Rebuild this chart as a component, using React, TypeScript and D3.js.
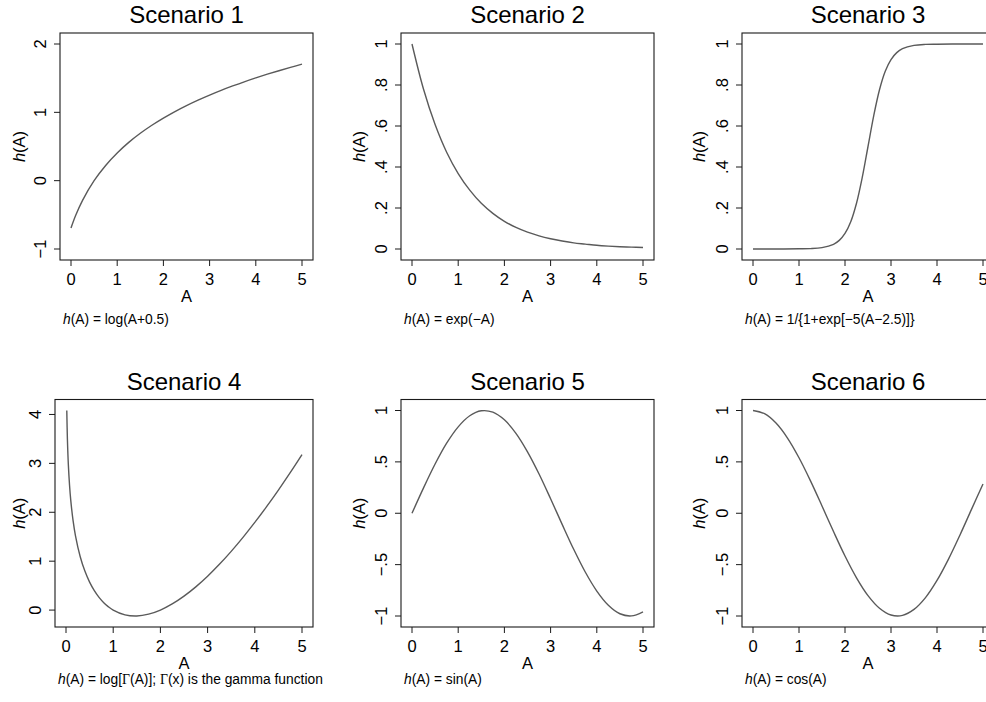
import React from 'react';
import * as d3 from 'd3';

// values, one array per scenario
const scenarioTitles = ['Scenario 1', 'Scenario 2', 'Scenario 3', 'Scenario 4', 'Scenario 5', 'Scenario 6'];

const gridA = [0, 0.25, 0.5, 0.75, 1, 1.25, 1.5, 1.75, 2, 2.25, 2.5, 2.75, 3, 3.25, 3.5, 3.75, 4, 4.25, 4.5, 4.75, 5];

const scenario1A = [0, 0.1, 0.25, 0.5, 0.75, 1, 1.25, 1.5, 1.75, 2, 2.25, 2.5, 2.75, 3, 3.25, 3.5, 3.75, 4, 4.25, 4.5, 4.75, 5];
const scenario1H = [-0.693, -0.511, -0.288, 0, 0.223, 0.405, 0.56, 0.693, 0.811, 0.916, 1.012, 1.099, 1.179, 1.253, 1.322, 1.386, 1.447, 1.504, 1.558, 1.609, 1.658, 1.705];

const scenario2H = [1, 0.779, 0.607, 0.472, 0.368, 0.287, 0.223, 0.174, 0.135, 0.105, 0.082, 0.064, 0.05, 0.039, 0.03, 0.024, 0.018, 0.014, 0.011, 0.009, 0.007];

const scenario3A = [0, 0.5, 1, 1.25, 1.5, 1.75, 1.875, 2, 2.125, 2.25, 2.375, 2.5, 2.625, 2.75, 2.875, 3, 3.125, 3.25, 3.5, 3.75, 4, 4.5, 5];
const scenario3H = [0, 0, 0.001, 0.002, 0.007, 0.023, 0.042, 0.076, 0.133, 0.223, 0.349, 0.5, 0.651, 0.777, 0.867, 0.924, 0.958, 0.977, 0.993, 0.998, 0.999, 1, 1];

const scenario4A = [0.0167, 0.03, 0.05, 0.075, 0.1, 0.15, 0.2, 0.3, 0.4, 0.5, 0.6, 0.7, 0.8, 0.9, 1, 1.25, 1.5, 1.75, 2, 2.25, 2.5, 2.75, 3, 3.25, 3.5, 3.75, 4, 4.25, 4.5, 4.75, 5];
const scenario4H = [4.081, 3.49, 2.969, 2.552, 2.253, 1.828, 1.524, 1.096, 0.797, 0.572, 0.398, 0.261, 0.152, 0.066, 0, -0.098, -0.121, -0.084, 0, 0.125, 0.285, 0.475, 0.693, 0.936, 1.201, 1.487, 1.792, 2.115, 2.454, 2.809, 3.178];

const scenario5H = [0, 0.247, 0.479, 0.682, 0.841, 0.949, 0.997, 0.984, 0.909, 0.778, 0.598, 0.382, 0.141, -0.108, -0.351, -0.572, -0.757, -0.895, -0.978, -0.999, -0.959];

const scenario6H = [1, 0.969, 0.878, 0.732, 0.54, 0.315, 0.071, -0.178, -0.416, -0.628, -0.801, -0.924, -0.99, -0.994, -0.936, -0.821, -0.654, -0.446, -0.211, 0.038, 0.284];

const xTicks = [0, 1, 2, 3, 4, 5];
const yTicks1 = [-1, 0, 1, 2];
const yTicks2 = [0, 0.2, 0.4, 0.6, 0.8, 1];
const yTicks4 = [0, 1, 2, 3, 4];
const yTicks5 = [-1, -0.5, 0, 0.5, 1];

const notes = [
  ' = log(A+0.5)',
  ' = exp(\u2212A)',
  ' = 1/{1+exp[\u22125(A\u22122.5)]}',
  'gamma',
  ' = sin(A)',
  ' = cos(A)',
];

const FONT = '"Liberation Sans", Arial, Helvetica, sans-serif';
const SERIF = '"Liberation Serif", "Times New Roman", serif';

// Stata-style tick labels: ".5", "−1"
const fmt = (v: number) => {
  let s = String(Math.abs(v));
  if (s.startsWith('0.')) s = s.slice(1);
  return (v < 0 ? '\u2212' : '') + s;
};

interface Panel {
  title: string;
  a: number[];
  h: number[];
  yTicks: number[];
  left: number;
  right: number;
  top: number;
  bottom: number;
  yTitleX: number;
  noteY: number;
  note: string;
}

const rowTop = { top: 33, bottom: 260, noteY: 324 };
const rowBot = { top: 399.5, bottom: 627, noteY: 684 };

const panels: Panel[] = [
  { title: scenarioTitles[0], a: scenario1A, h: scenario1H, yTicks: yTicks1, left: 60, right: 313, ...rowTop, yTitleX: 24.5, note: notes[0] },
  { title: scenarioTitles[1], a: gridA, h: scenario2H, yTicks: yTicks2, left: 401, right: 654, ...rowTop, yTitleX: 365, note: notes[1] },
  { title: scenarioTitles[2], a: scenario3A, h: scenario3H, yTicks: yTicks2, left: 742, right: 994, ...rowTop, yTitleX: 704.5, note: notes[2] },
  { title: scenarioTitles[3], a: scenario4A, h: scenario4H, yTicks: yTicks4, left: 55, right: 313, ...rowBot, yTitleX: 24.5, note: notes[3] },
  { title: scenarioTitles[4], a: gridA, h: scenario5H, yTicks: yTicks5, left: 401, right: 654, ...rowBot, yTitleX: 365, note: notes[4] },
  { title: scenarioTitles[5], a: gridA, h: scenario6H, yTicks: yTicks5, left: 742, right: 994, ...rowBot, yTitleX: 704.5, note: notes[5] },
];

const INSET = 11;

const PanelChart: React.FC<{ p: Panel }> = ({ p }) => {
  const xScale = d3.scaleLinear().domain([0, 5]).range([p.left + INSET, p.right - INSET]);
  const yMin = Math.min(d3.min(p.h) as number, p.yTicks[0]);
  const yMax = Math.max(d3.max(p.h) as number, p.yTicks[p.yTicks.length - 1]);
  const yScale = d3.scaleLinear().domain([yMin, yMax]).range([p.bottom - INSET, p.top + INSET]);

  const pts = p.a.map((a, i) => [a, p.h[i]] as [number, number]);
  const line = d3
    .line<[number, number]>()
    .x((d) => xScale(d[0]))
    .y((d) => yScale(d[1]))
    .curve(d3.curveCatmullRom.alpha(0.5));

  const cx = (p.left + p.right) / 2;
  const cy = (p.top + p.bottom) / 2;

  return (
    <g fontFamily={FONT}>
      <text x={cx} y={p.top - 10} textAnchor="middle" fontSize={24} fill="#000">
        {p.title}
      </text>
      <path d={line(pts) || ''} fill="none" stroke="#5a5a5a" strokeWidth={1.4} />
      <rect
        x={p.left}
        y={p.top}
        width={p.right - p.left}
        height={p.bottom - p.top}
        fill="none"
        stroke="#1a1a1a"
        strokeWidth={1.1}
      />
      {xTicks.map((t) => (
        <g key={'x' + t}>
          <line x1={xScale(t)} x2={xScale(t)} y1={p.bottom} y2={p.bottom + 6} stroke="#1a1a1a" strokeWidth={1} />
          <text x={xScale(t)} y={p.bottom + 24.5} textAnchor="middle" fontSize={16.5}>
            {fmt(t)}
          </text>
        </g>
      ))}
      <text x={cx} y={p.bottom + 41.5} textAnchor="middle" fontSize={16.5}>
        A
      </text>
      {p.yTicks.map((t) => (
        <g key={'y' + t}>
          <line x1={p.left - 6} x2={p.left} y1={yScale(t)} y2={yScale(t)} stroke="#1a1a1a" strokeWidth={1} />
          <text
            transform={`translate(${p.left - 14.5},${yScale(t)}) rotate(-90)`}
            textAnchor="middle"
            fontSize={16.5}
          >
            {fmt(t)}
          </text>
        </g>
      ))}
      <text transform={`translate(${p.yTitleX},${cy}) rotate(-90)`} textAnchor="middle" fontSize={16.5}>
        <tspan fontStyle="italic">h</tspan>(A)
      </text>
      <text x={p.left + 3} y={p.noteY} fontSize={13.8}>
        <tspan fontStyle="italic">h</tspan>
        {p.note === 'gamma' ? (
          <>
            (A) = log[<tspan fontFamily={SERIF}>{'\u0393'}</tspan>(A)]; <tspan fontFamily={SERIF}>{'\u0393'}</tspan>(x) is
            the gamma function
          </>
        ) : (
          '(A)' + p.note
        )}
      </text>
    </g>
  );
};

export default function App() {
  return (
    <svg
      width={986}
      height={702}
      style={{ position: 'absolute', left: 0, top: 0, background: '#fff' }}
    >
      <rect x={0} y={0} width={986} height={702} fill="#fff" />
      {panels.map((p) => (
        <PanelChart key={p.title} p={p} />
      ))}
    </svg>
  );
}
